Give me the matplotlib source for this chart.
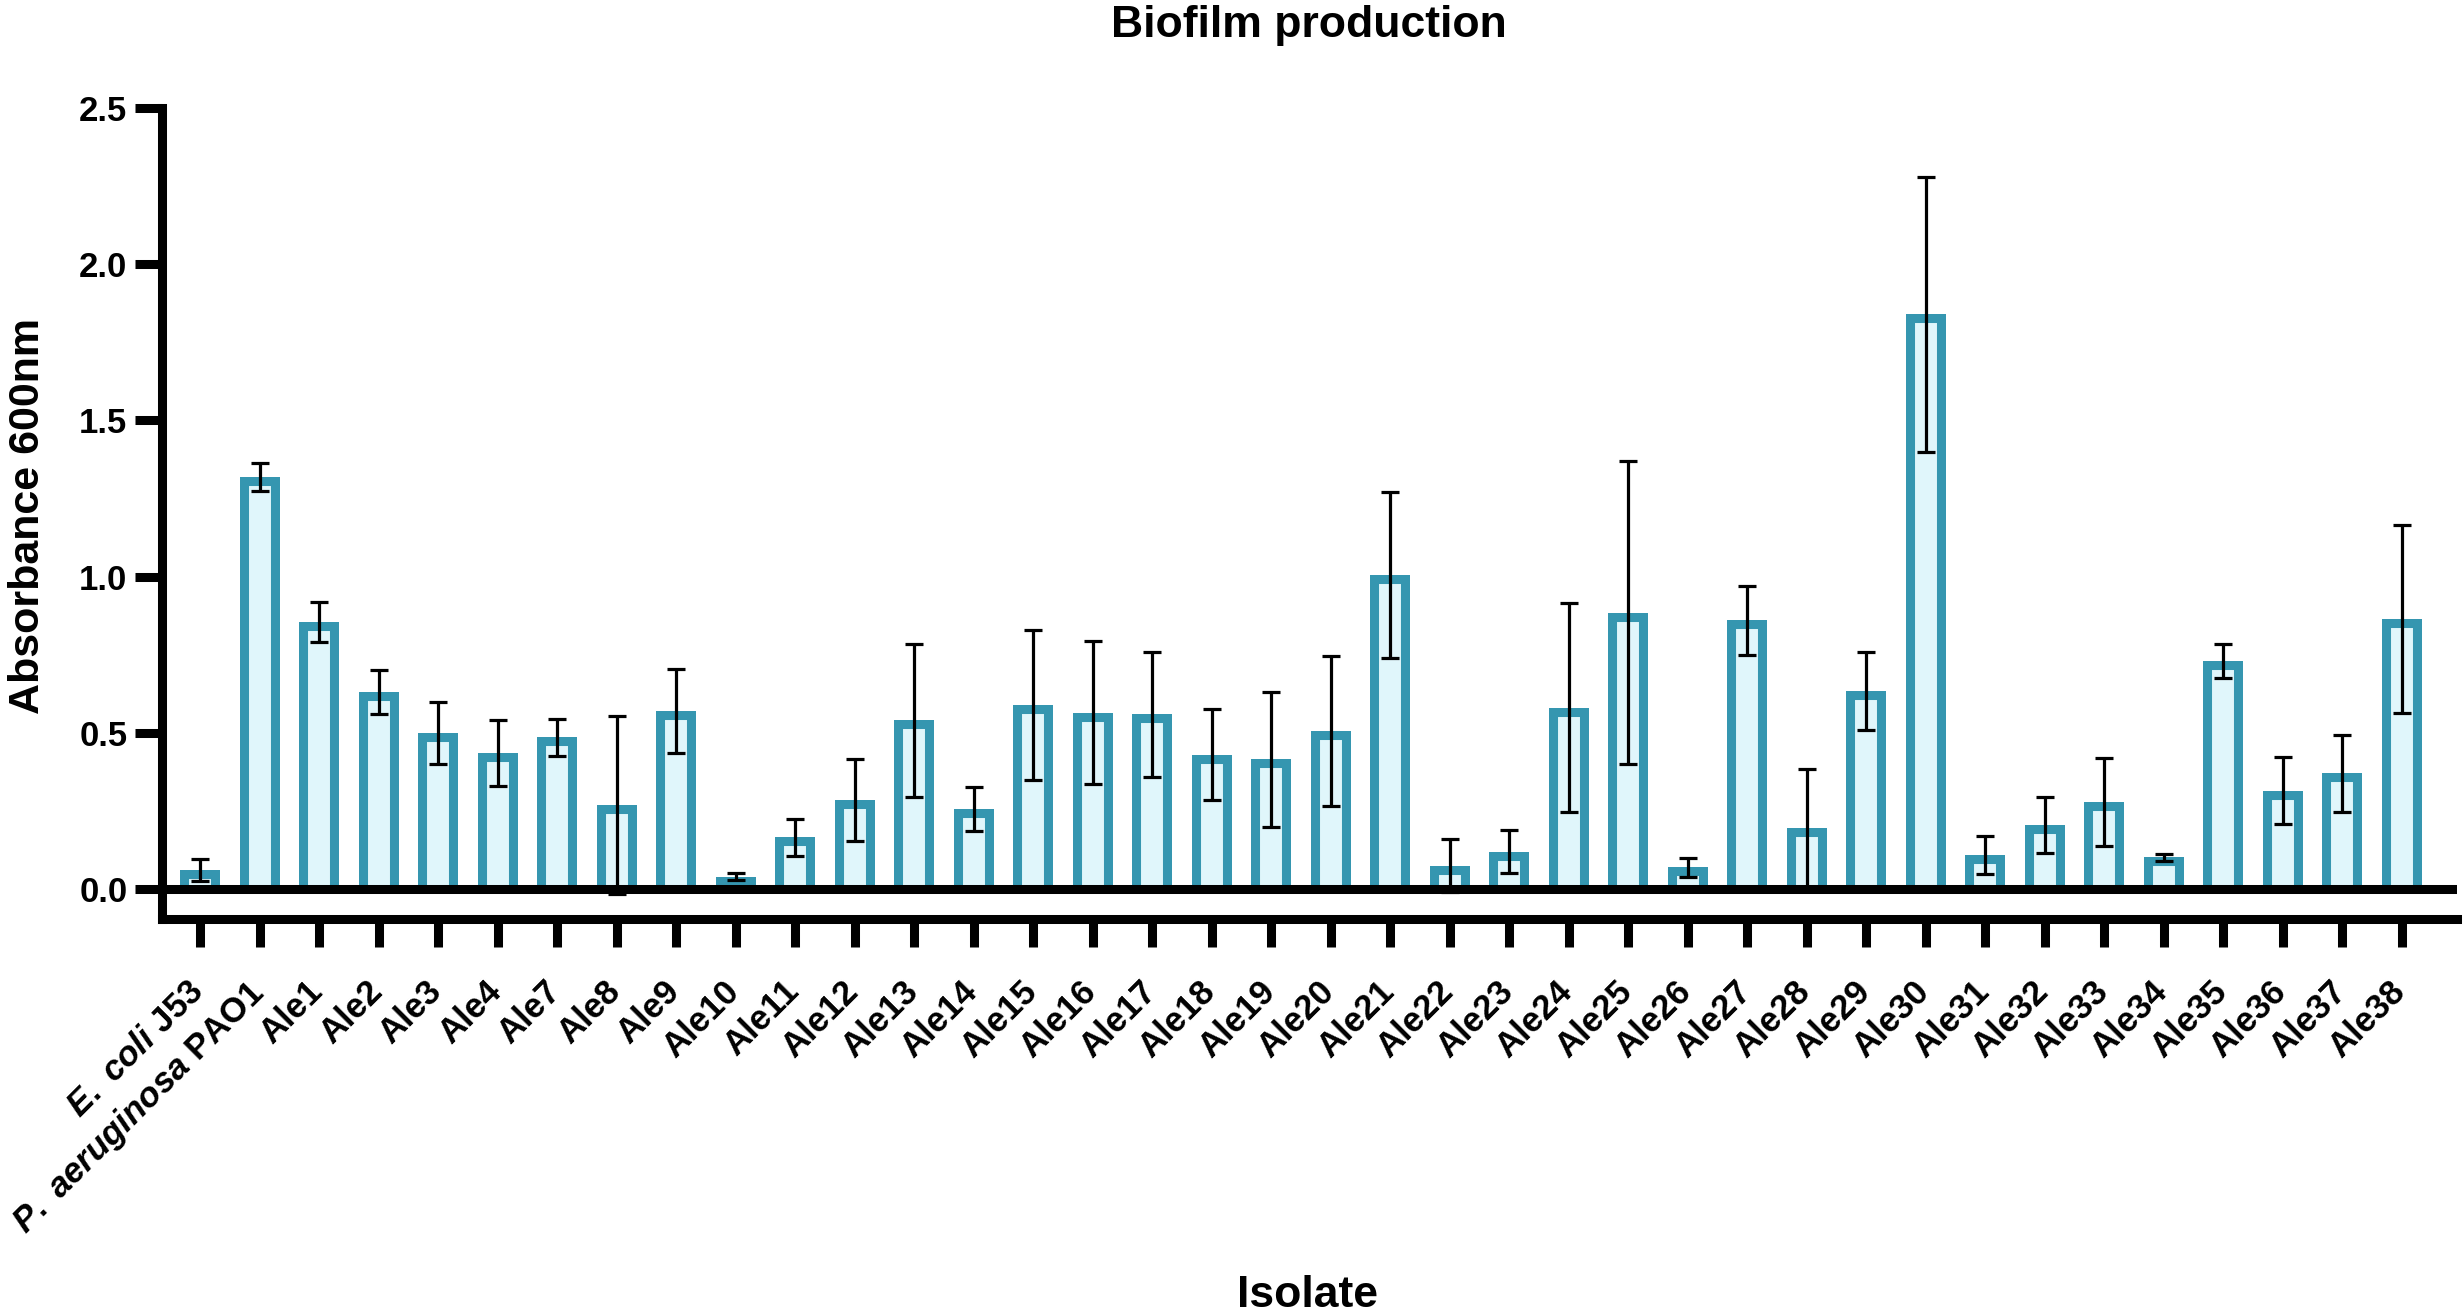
import matplotlib
matplotlib.use("Agg")
import matplotlib.pyplot as plt
from matplotlib.patches import Rectangle
import matplotlib.transforms as mtransforms
import numpy as np

plt.rcParams['font.family'] = ['Liberation Sans', 'DejaVu Sans']
plt.rcParams['font.weight'] = 'bold'
plt.rcParams['mathtext.fontset'] = 'custom'
plt.rcParams['mathtext.it'] = 'Liberation Sans:italic:bold'
plt.rcParams['mathtext.rm'] = 'Liberation Sans:bold'

# ---- data ----
isolates = [r'$\mathit{E.\ coli}$ J53', r'$\mathit{P.\ aeruginosa}$ PAO1',
            'Ale1', 'Ale2', 'Ale3', 'Ale4', 'Ale7', 'Ale8', 'Ale9', 'Ale10',
            'Ale11', 'Ale12', 'Ale13', 'Ale14', 'Ale15', 'Ale16', 'Ale17', 'Ale18',
            'Ale19', 'Ale20', 'Ale21', 'Ale22', 'Ale23', 'Ale24', 'Ale25', 'Ale26',
            'Ale27', 'Ale28', 'Ale29', 'Ale30', 'Ale31', 'Ale32', 'Ale33', 'Ale34',
            'Ale35', 'Ale36', 'Ale37', 'Ale38']
means = [0.061, 1.32, 0.855, 0.63, 0.50, 0.435, 0.485, 0.27, 0.57, 0.04,
         0.165, 0.285, 0.54, 0.255, 0.59, 0.565, 0.56, 0.43,
         0.415, 0.505, 1.005, 0.075, 0.12, 0.58, 0.885, 0.07,
         0.86, 0.195, 0.635, 1.84, 0.109, 0.205, 0.279, 0.101,
         0.73, 0.315, 0.37, 0.865]
errors = [0.035, 0.045, 0.065, 0.07, 0.10, 0.105, 0.06, 0.285, 0.135, 0.01,
          0.06, 0.13, 0.245, 0.07, 0.24, 0.23, 0.20, 0.145,
          0.215, 0.24, 0.265, 0.085, 0.07, 0.335, 0.485, 0.03,
          0.11, 0.19, 0.125, 0.44, 0.062, 0.089, 0.141, 0.01,
          0.055, 0.107, 0.123, 0.30]
yticks = [0.0, 0.5, 1.0, 1.5, 2.0, 2.5]

# ---- style ----
edge_col = '#3596B0'
face_col = '#E0F6FB'
W, H, DPI = 2463, 1312, 100
fig = plt.figure(figsize=(W / DPI, H / DPI), dpi=DPI)
ax = fig.add_axes([162 / W, 1 - 919 / H, (2457 - 162) / W, (919 - 108) / H])

x = np.arange(len(isolates))
bw = 0.672
ext = 0.05
bars = ax.bar(x, np.array(means) + ext, bottom=-ext, width=bw,
              facecolor=face_col, edgecolor=edge_col, linewidth=13.0, zorder=2)
# keep only the inner half of the outline so the outer edge matches the value
for xi, m, b in zip(x, means, bars):
    clip = Rectangle((xi - bw / 2, 0), bw, m, transform=ax.transData)
    b.set_clip_path(clip)

ax.axhline(0, color='black', linewidth=6.5, zorder=3, solid_capstyle='butt')
ax.errorbar(x, means, yerr=errors, fmt='none', ecolor='black', elinewidth=2.3,
            capsize=6.8, capthick=2.3, zorder=4)

ax.set_xlim(-0.64, 37.93)
ax.set_ylim(-0.096, 2.5)
ax.set_yticks(yticks)
ax.set_yticklabels([f'{v:.1f}' for v in yticks])
ax.set_xticks(x)
ax.set_xticklabels(isolates, rotation=45, ha='right', va='top', rotation_mode='anchor')

for s in ['top', 'right']:
    ax.spines[s].set_visible(False)
for s in ['left', 'bottom']:
    ax.spines[s].set_linewidth(6.5)
    ax.spines[s].set_capstyle('projecting')

ax.tick_params(axis='y', length=19.4, width=6.5, labelsize=25, pad=5.5)
ax.tick_params(axis='x', length=20, width=6.5, labelsize=25, pad=20)

offset = mtransforms.ScaledTranslation(-13 / DPI, 0, fig.dpi_scale_trans)
for lab in ax.get_xticklabels():
    lab.set_transform(lab.get_transform() + offset)
    lab.set_fontweight('bold')
for lab in ax.get_yticklabels():
    lab.set_fontweight('bold')

fig.text(1309 / W, 1 - 37 / H, 'Biofilm production', ha='center', va='baseline',
         fontsize=32, fontweight='bold')
fig.text(1308 / W, 1 - 1307 / H, 'Isolate', ha='center', va='baseline',
         fontsize=32, fontweight='bold')
fig.text(28 / W, 1 - 516 / H, 'Absorbance 600nm', ha='center', va='center',
         rotation=90, fontsize=31, fontweight='bold')

fig.savefig('out.png', dpi=DPI, facecolor='white')
